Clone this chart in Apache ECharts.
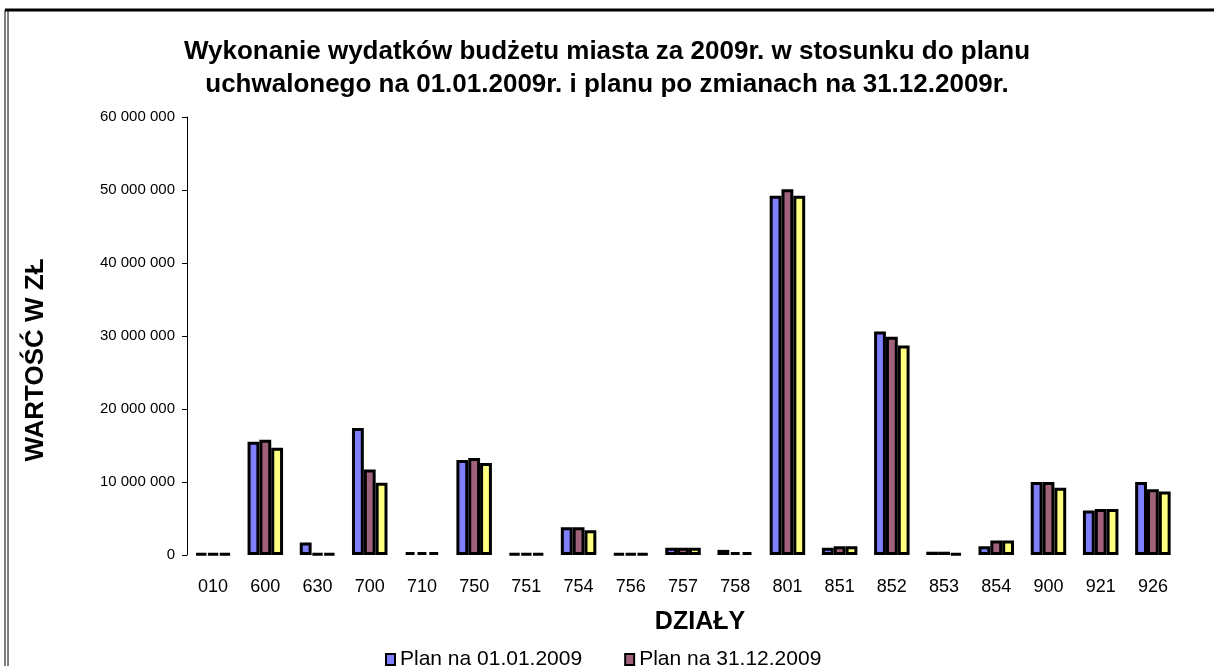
<!DOCTYPE html>
<html>
<head>
<meta charset="utf-8">
<script src="https://cdn.jsdelivr.net/npm/echarts@6/dist/echarts.min.js"></script>
<style>
  html, body { margin: 0; padding: 0; background: #fff; }
  #wykres { width: 1214px; height: 666px; }
</style>
</head>
<body>
<div id="wykres"></div>
<script>
var chartDom = document.getElementById('wykres');
var myChart = echarts.init(chartDom);

// dzialy budzetu
const categories = ['010', '600', '630', '700', '710', '750', '751', '754', '756', '757',
                    '758', '801', '851', '852', '853', '854', '900', '921', '926'];
// wartosci w zl
const planPoczatkowy = [200000, 15500000, 1700000, 17400000, 400000, 13000000, 200000, 3800000, 200000, 1000000,
                        700000, 49200000, 1000000, 30600000, 450000, 1200000, 10000000, 6100000, 10000000];
const planPoZmianach = [200000, 15800000, 200000, 11700000, 400000, 13300000, 200000, 3800000, 200000, 1000000,
                        400000, 50100000, 1200000, 29900000, 450000, 2000000, 10000000, 6300000, 9000000];
const wykonanie = [200000, 14700000, 200000, 9900000, 400000, 12600000, 200000, 3400000, 200000, 1000000,
                   400000, 49200000, 1200000, 28700000, 200000, 2000000, 9200000, 6300000, 8700000];
const seriesNames = ['Plan na 01.01.2009', 'Plan na 31.12.2009', 'Wykonanie na 31.12.2009'];
const yTicks = [0, 10000000, 20000000, 30000000, 40000000, 50000000, 60000000];

const font = 'Liberation Sans, Arial, sans-serif';

function bar(name, data, color) {
    return {
        name: name,
        type: 'bar',
        data: data,
        barGap: '0%',
        barCategoryGap: '32%',
        itemStyle: {
            color: color,
            borderColor: '#000',
            borderWidth: 3
        }
    };
}

let option = {
    animation: false,
    backgroundColor: '#fff',
    title: {
        text: 'Wykonanie wydatków budżetu miasta za 2009r. w stosunku do planu\nuchwalonego na 01.01.2009r. i planu po zmianach na 31.12.2009r.',
        left: 'center',
        top: 30,
        textStyle: {
            fontFamily: font,
            fontWeight: 'bold',
            fontSize: 26,
            lineHeight: 33,
            color: '#000'
        }
    },
    legend: {
        data: seriesNames.slice(0, 2),
        left: 380,
        top: 644,
        itemWidth: 9,
        itemHeight: 11,
        itemGap: 42,
        icon: 'rect',
        textStyle: {
            fontFamily: font,
            fontSize: 21,
            color: '#000'
        }
    },
    grid: {
        left: 187,
        right: 35,
        top: 117,
        bottom: 111
    },
    xAxis: {
        type: 'category',
        data: categories,
        axisLine: { show: false },
        axisTick: { show: false },
        axisLabel: {
            margin: 23,
            fontFamily: font,
            fontSize: 18,
            color: '#000'
        }
    },
    yAxis: {
        type: 'value',
        min: yTicks[0],
        max: yTicks[yTicks.length - 1],
        interval: yTicks[1] - yTicks[0],
        axisLine: { show: true, lineStyle: { color: '#000', width: 1 } },
        axisTick: { show: true, length: 5, lineStyle: { color: '#000' } },
        splitLine: { show: false },
        axisLabel: {
            margin: 12,
            fontFamily: font,
            fontSize: 15,
            color: '#000',
            formatter: function (v) {
                return String(v).replace(/\B(?=(\d{3})+(?!\d))/g, ' ');
            }
        }
    },
    graphic: [
        // ramka
        { type: 'line', shape: { x1: 5, y1: 10, x2: 5, y2: 666 }, style: { stroke: '#000', lineWidth: 1 } },
        { type: 'line', shape: { x1: 8, y1: 10, x2: 8, y2: 666 }, style: { stroke: '#000', lineWidth: 1 } },
        { type: 'line', shape: { x1: 5, y1: 10, x2: 1214, y2: 10 }, style: { stroke: '#000', lineWidth: 3 } },
        {
            type: 'text',
            x: 36, y: 360,
            rotation: Math.PI / 2,
            style: {
                text: 'WARTOŚĆ W ZŁ',
                fontFamily: font,
                fontWeight: 'bold',
                fontSize: 26,
                fill: '#000',
                align: 'center',
                verticalAlign: 'middle'
            }
        },
        {
            type: 'text',
            x: 700, y: 622,
            style: {
                text: 'DZIAŁY',
                fontFamily: font,
                fontWeight: 'bold',
                fontSize: 25,
                fill: '#000',
                align: 'center',
                verticalAlign: 'middle'
            }
        }
    ],
    series: [
        bar(seriesNames[0], planPoczatkowy, '#8080FF'),
        bar(seriesNames[1], planPoZmianach, '#A0627A'),
        bar(seriesNames[2], wykonanie, '#FFFF80')
    ]
};

option && myChart.setOption(option);
</script>
</body>
</html>
